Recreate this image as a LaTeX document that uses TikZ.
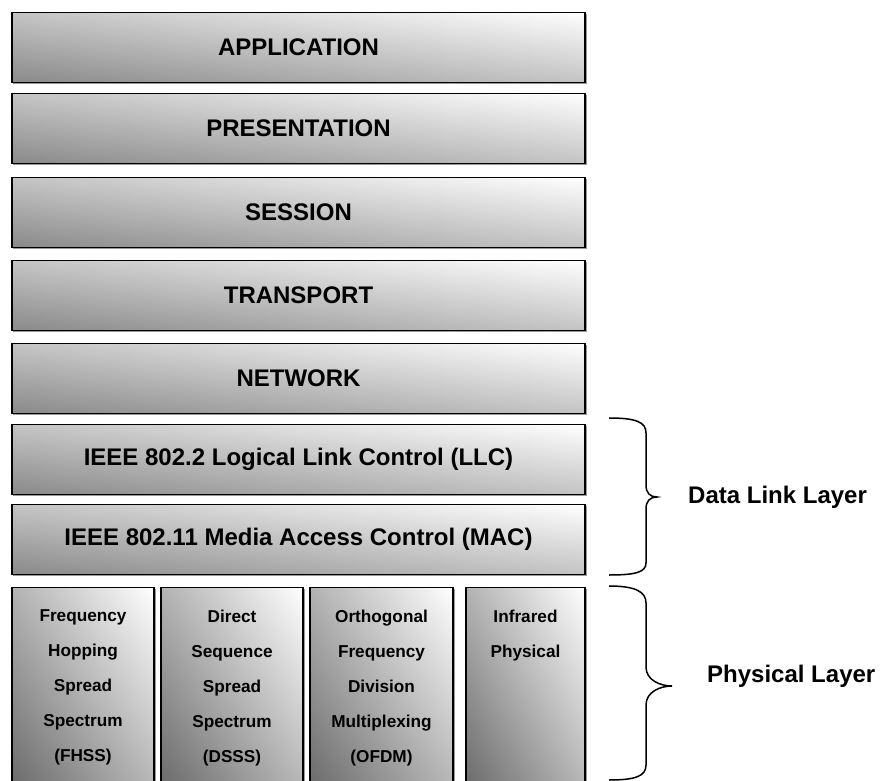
\documentclass[tikz,border=0pt]{standalone}
\usepackage{fontspec}
\setmainfont{Liberation Sans}
\usetikzlibrary{shadows}
\begin{document}
\begin{tikzpicture}[x=1pt,y=-1pt,
  gshade/.style={left color=#1, right color=white,
    path picture={\shade[top color=white, bottom color=#1, fill opacity=0.5]
      (path picture bounding box.south west) rectangle (path picture bounding box.north east);}},
  layerbox/.style={draw=black, line width=1.6pt, gshade=black!46,
    general shadow={fill=black!40, shadow xshift=1.5pt, shadow yshift=-1.5pt},
    inner sep=0pt, minimum width=573.5pt, minimum height=70pt,
    font=\fontsize{24}{28}\selectfont\bfseries},
  colbox/.style={draw=black, line width=1.6pt, gshade=black!60,
    general shadow={fill=black!40, shadow xshift=1.5pt, shadow yshift=-1.5pt},
    inner sep=0pt, minimum height=212pt},
  coltext/.style={inner sep=0pt, anchor=north, align=center, font=\fontsize{17.2}{35}\selectfont\bfseries},
  sidelabel/.style={inner sep=0pt, anchor=west, font=\fontsize{24}{28}\selectfont\bfseries},
  bracestyle/.style={draw=black, line width=1.5pt}
]
\useasboundingbox (0,0) rectangle (881,781);
\begin{scope}
\clip (0,0) rectangle (881,781);
\node[layerbox] (app)   at (298.5,47.5)  {APPLICATION};
\node[layerbox] (pres)  at (298.5,128.5) {PRESENTATION};
\node[layerbox] (sess)  at (298.5,212.5) {SESSION};
\node[layerbox] (trans) at (298.5,295.5) {TRANSPORT};
\node[layerbox] (net)   at (298.5,378.5) {NETWORK};
\node[layerbox] (llc)   at (298.5,459.5) {IEEE 802.2 Logical Link Control (LLC)};
\node[layerbox] (mac)   at (298.5,539.5) {IEEE 802.11 Media Access Control (MAC)};
\node[colbox, minimum width=142.5pt] (c1) at (83,693.5) {};
\node[colbox, minimum width=142.5pt] (c2) at (232,693.5) {};
\node[colbox, minimum width=143.5pt] (c3) at (381.5,693.5) {};
\node[colbox, minimum width=119.5pt] (c4) at (525.5,693.5) {};
\end{scope}
\node[coltext] (t1) at ([yshift=-23pt]c1.north) {Frequency\\Hopping\\Spread\\Spectrum\\(FHSS)};
\node[coltext] (t2) at ([yshift=-23pt]c2.north) {Direct\\Sequence\\Spread\\Spectrum\\(DSSS)};
\node[coltext] (t3) at ([yshift=-23pt]c3.north) {Orthogonal\\Frequency\\Division\\Multiplexing\\(OFDM)};
\node[coltext] (t4) at ([yshift=-23pt]c4.north) {Infrared\\Physical};
% braces
\draw[bracestyle] (609,418) .. controls (636,418) and (646,422) .. (646,433)
  -- (646,485) .. controls (646,493) and (650,497) .. (657,497)
  .. controls (650,497) and (646,501) .. (646,509)
  -- (646,563) .. controls (646,572) and (636,575) .. (609,575);
\draw[bracestyle] (609,586) .. controls (636,586) and (646,592) .. (646,603)
  -- (646,667) .. controls (646,680) and (660,686) .. (672,686)
  .. controls (660,686) and (646,692) .. (646,705)
  -- (646,765) .. controls (646,776) and (636,780) .. (609,780);
\node[sidelabel] (dll) at (688,497) {Data Link Layer};
\node[sidelabel] (phy) at (707,676) {Physical Layer};
\end{tikzpicture}
\end{document}
